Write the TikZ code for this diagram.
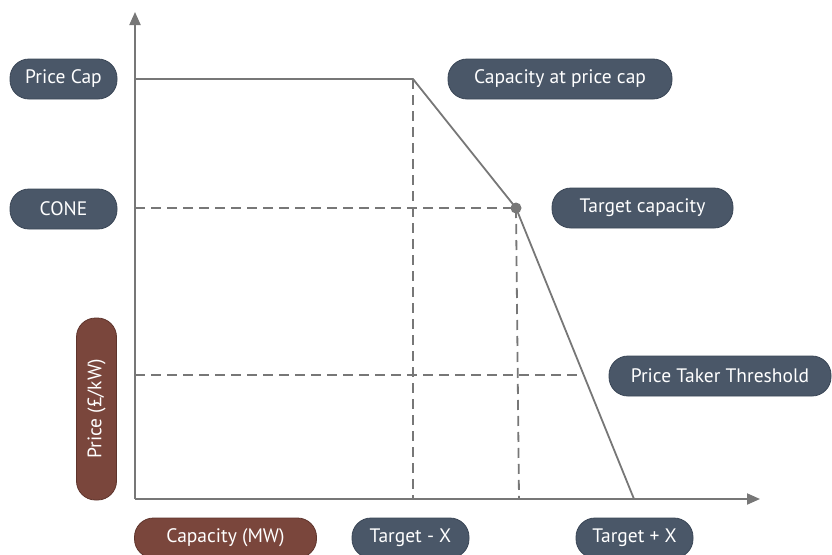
\documentclass[tikz,border=0pt]{standalone}
\usepackage{fontspec}
\setmainfont{PT Sans}
\usetikzlibrary{arrows.meta}
\definecolor{slate}{HTML}{4A5768}
\definecolor{slateb}{HTML}{3A4656}
\definecolor{brown}{HTML}{7A463C}
\definecolor{brownb}{HTML}{5E342C}
\definecolor{axisgray}{HTML}{777777}
\begin{document}
\begin{tikzpicture}[x=1pt,y=-1pt,
  pill/.style={draw=slateb, line width=0.8pt, fill=slate, text=white, rounded corners=19pt,
    minimum height=40pt, inner sep=0pt, font=\fontsize{19.5}{22}\selectfont},
  bpill/.style={pill, draw=brownb, fill=brown},
  axisline/.style={draw=axisgray, line width=2pt, -{Triangle[length=13pt,width=11pt]}},
  curve/.style={draw=axisgray, line width=1.8pt},
  dashline/.style={draw=axisgray, line width=1.8pt, dash pattern=on 10pt off 6pt}]
\useasboundingbox (0,0) rectangle (832,554);
% coordinates
\coordinate (O) at (135,499);
\coordinate (ytop) at (135,12);
\coordinate (xend) at (760,499);
\coordinate (cap0) at (135,79);
\coordinate (capk) at (413,79);
\coordinate (tgt) at (516,208);
\coordinate (tx) at (634,499);
\coordinate (cone0) at (135,208);
\coordinate (pt0) at (135,375);
\coordinate (ptk) at (584,375);
\coordinate (capb) at (413,499);
\coordinate (tgtb) at (519,499);
% dashed
\draw[dashline] (cone0) -- (tgt);
\draw[dashline] (pt0) -- (ptk);
\draw[dashline] (capk) -- (capb);
\draw[dashline] (tgt) -- (tgtb);
% curve
\draw[curve, line join=round] (cap0) -- (capk) -- (tgt) -- (tx);
\fill[axisgray] (tgt) circle (5.5pt);
% axes
\draw[axisline] (O) -- (ytop);
\draw[axisline] (O) -- (xend);
% labels
\node[pill, minimum width=107pt] (pcap) at (63.5,79) {Price Cap};
\node[pill, minimum width=107pt] (cone) at (63.5,209) {CONE};
\node[pill, minimum width=224pt] (capc) at (560,79) {Capacity at price cap};
\node[pill, minimum width=181pt] (tcap) at (642.5,208) {Target capacity};
\node[pill, minimum width=222pt] (ptt) at (720,376) {Price Taker Threshold};
\node[bpill, minimum width=182pt, rotate=90] (price) at (96.5,409) {Price (£/kW)};
\node[bpill, minimum width=182pt] (capmw) at (225.5,538) {Capacity (MW)};
\node[pill, minimum width=117pt] (tmx) at (410.5,538) {Target - X};
\node[pill, minimum width=117pt] (tpx) at (634.5,538) {Target + X};
\end{tikzpicture}
\end{document}
